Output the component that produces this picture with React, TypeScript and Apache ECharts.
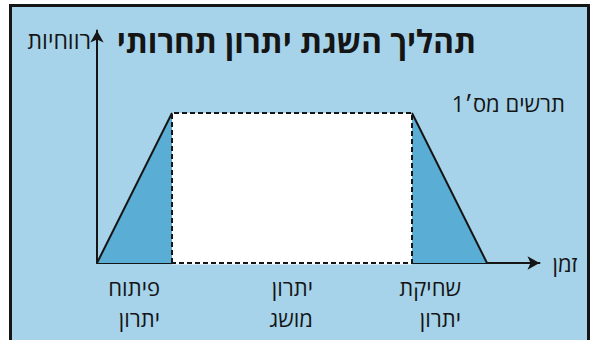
import React, { useEffect, useRef } from "react";
import * as echarts from "echarts";

// ---- data ----
const phaseX = [0, 1, 4.2, 5.2]; // time points of the trapezoid corners
const profit = [0, 1, 1, 0]; // profitability at those points
const phaseLabels = [
  ["פיתוח", "יתרון"],
  ["יתרון", "מושג"],
  ["שחיקת", "יתרון"],
];
const titleText = "תהליך השגת יתרון תחרותי";
const subtitleText = "תרשים מס׳1";
const yAxisName = "רווחיות";
const xAxisName = "זמן";

const BG = "#a6d3ea";
const FILL = "#5aadd4";
const INK = "#151515";
const FONT = "'Open Sans', 'Liberation Sans', 'DejaVu Sans', sans-serif";

export default function App() {
  const ref = useRef<HTMLDivElement>(null);
  useEffect(() => {
    if (!ref.current) return;
    const chart = echarts.init(ref.current, undefined, { renderer: "svg" });
    const pts = phaseX.map((x, i) => [x, profit[i]]);
    const rectPath = [
      [phaseX[1], 0],
      pts[1],
      pts[2],
      [phaseX[2], 0],
      [phaseX[1], 0],
    ];
    const labelRight = [160, 313, 461];
    const option: any = {
      animation: false,
      backgroundColor: "#ffffff",
      grid: { left: 97, right: 55.5, top: 30.5, bottom: 77 },
      xAxis: {
        type: "value",
        min: 0,
        max: 5.9,
        axisLine: {
          show: true,
          lineStyle: { color: INK, width: 2 },
          symbol: ["none", "arrow"],
          symbolSize: [10, 12],
        },
        axisTick: { show: false },
        axisLabel: { show: false },
        splitLine: { show: false },
        name: xAxisName,
        nameLocation: "end",
        nameGap: 13,
        nameTextStyle: { color: INK, fontSize: 22, fontFamily: FONT, align: "left", verticalAlign: "middle" },
      },
      yAxis: {
        type: "value",
        min: 0,
        max: 1.55,
        axisLine: {
          show: true,
          onZero: false,
          lineStyle: { color: INK, width: 2 },
          symbol: ["none", "arrow"],
          symbolSize: [10, 12],
        },
        axisTick: { show: false },
        axisLabel: { show: false },
        splitLine: { show: false },
      },
      graphic: [
        {
          type: "rect",
          z: -10,
          shape: { x: 10.5, y: 5.5, width: 578, height: 345 },
          style: { fill: BG, stroke: INK, lineWidth: 3 },
        },
        {
          type: "text",
          z: 10,
          x: 476,
          y: 40,
          style: {
            text: titleText,
            fill: INK,
            font: `bold 31.5px ${FONT}`,
            textAlign: "right",
            textVerticalAlign: "middle",
          },
        },
        {
          type: "text",
          z: 10,
          x: 91,
          y: 40,
          style: { text: yAxisName, fill: INK, font: `23px ${FONT}`, textAlign: "right", textVerticalAlign: "middle" },
        },
        {
          type: "text",
          z: 10,
          x: 565,
          y: 103,
          style: { text: subtitleText, fill: INK, font: `22px ${FONT}`, textAlign: "right", textVerticalAlign: "middle" },
        },
        ...phaseLabels.flatMap((lines, i) =>
          lines.map((t, j) => ({
            type: "text",
            z: 10,
            x: labelRight[i],
            y: 287 + j * 31,
            style: { text: t, fill: INK, font: `22px ${FONT}`, textAlign: "right", textVerticalAlign: "middle" },
          }))
        ),
      ],
      series: [
        {
          type: "line",
          data: pts.slice(1, 3),
          symbol: "none",
          clip: false,
          z: 2,
          lineStyle: { width: 0 },
          areaStyle: { color: "#ffffff", opacity: 1 },
        },
        {
          type: "line",
          data: pts.slice(0, 2),
          symbol: "none",
          clip: false,
          z: 3,
          lineStyle: { color: INK, width: 2 },
          areaStyle: { color: FILL, opacity: 1 },
        },
        {
          type: "line",
          data: pts.slice(2, 4),
          symbol: "none",
          clip: false,
          z: 3,
          lineStyle: { color: INK, width: 2 },
          areaStyle: { color: FILL, opacity: 1 },
        },
        {
          type: "line",
          data: [rectPath[0], rectPath[3]],
          symbol: "none",
          clip: false,
          z: 4,
          lineStyle: { color: "#ffffff", width: 3 },
        },
        {
          type: "line",
          data: rectPath,
          symbol: "none",
          clip: false,
          z: 5,
          lineStyle: { color: INK, width: 2, type: [5, 3] },
        },
      ],
    };
    chart.setOption(option);
    return () => chart.dispose();
  }, []);
  return (
    <div style={{ position: "fixed", left: 0, top: 0, width: 595, height: 340, background: "#fff" }}>
      <div ref={ref} style={{ width: 595, height: 340 }} />
    </div>
  );
}
